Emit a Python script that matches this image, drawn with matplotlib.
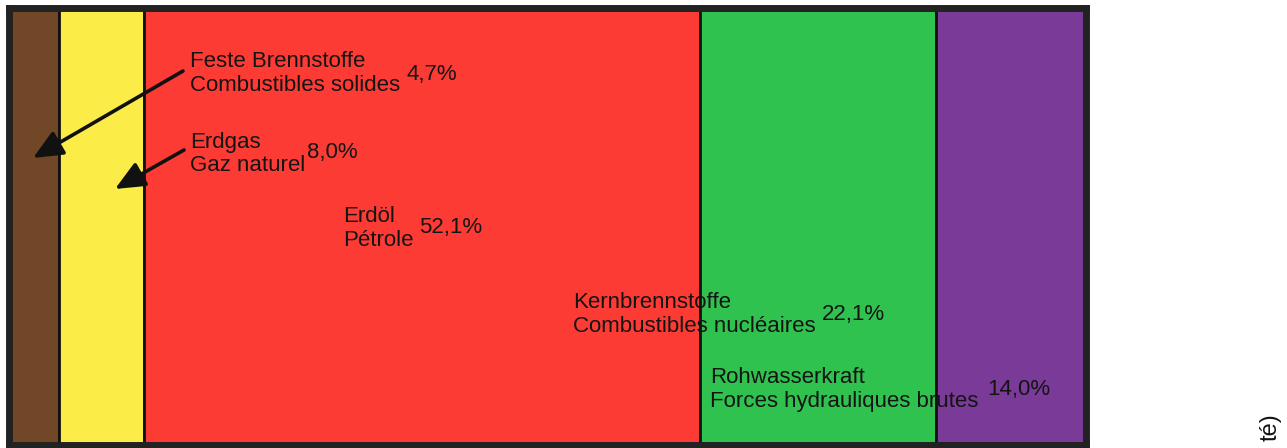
import matplotlib
matplotlib.use("Agg")
import matplotlib.pyplot as plt
import numpy as np

# ---- data ----
labels_de = ["Feste Brennstoffe", "Erdgas", "Erdöl", "Kernbrennstoffe", "Rohwasserkraft"]
labels_fr = ["Combustibles solides", "Gaz naturel", "Pétrole", "Combustibles nucléaires",
             "Forces hydrauliques brutes"]
shares = [4.7, 8.0, 52.1, 22.1, 14.0]
pct_text = ["4,7%", "8,0%", "52,1%", "22,1%", "14,0%"]
colors = ["#724727", "#fbec48", "#fc3b35", "#30c24f", "#7a3a98"]
edge_caption = "té)"

# ---- layout (pixel positions of labels in the 1287x448 figure) ----
W, H = 1287, 448
ax_l, ax_r, ax_t, ax_b = 8.5, 1086.0, 8.5, 445.0
# (x_left, baseline_de, baseline_fr) for names; (x_left, baseline) for percentages
name_pos = [(190, 67, 91), (190, 148, 171), (343, 222, 246), (573, 308, 332), (710, 383, 407)]
pct_pos = [(407, 80), (307, 158), (419, 233), (822, 320), (987, 395)]
# arrows: (start_x, start_y, tip_x, tip_y)
arrow_pos = [(183, 71, 33, 158), (184, 150, 115, 189)]

plt.rcParams["font.family"] = ["Liberation Sans", "DejaVu Sans"]

fig = plt.figure(figsize=(W / 100, H / 100), dpi=100)
ax = fig.add_axes([ax_l / W, 1 - ax_b / H, (ax_r - ax_l) / W, (ax_b - ax_t) / H])

total = sum(shares)
lefts = np.concatenate([[0], np.cumsum(shares)[:-1]])
ax.barh([0.5] * len(shares), shares, left=lefts, height=1.0, color=colors,
        edgecolor="#111111", linewidth=2.0, zorder=1)
ax.set_xlim(0, total)
ax.set_ylim(0, 1)
ax.set_xticks([])
ax.set_yticks([])
for s in ax.spines.values():
    s.set_linewidth(5.0)
    s.set_color("#222222")
    s.set_zorder(5)


def to_data(px, py):
    x = (px - ax_l) / (ax_r - ax_l) * total
    y = 1 - (py - ax_t) / (ax_b - ax_t)
    return x, y


fs = 16.0
tc = "#141414"
for de, fr, (px, b1, b2) in zip(labels_de, labels_fr, name_pos):
    ax.text(*to_data(px, b1), de, fontsize=fs, color=tc, ha="left", va="baseline", zorder=3)
    ax.text(*to_data(px, b2), fr, fontsize=fs, color=tc, ha="left", va="baseline", zorder=3)
for t, (px, py) in zip(pct_text, pct_pos):
    ax.text(*to_data(px, py), t, fontsize=fs, color=tc, ha="left", va="baseline", zorder=3)

for sx, sy, tx, ty in arrow_pos:
    ax.annotate("", xy=to_data(tx, ty), xytext=to_data(sx, sy),
                arrowprops=dict(arrowstyle="-|>,head_length=0.9,head_width=0.4", lw=2.6,
                                color="#111111", shrinkA=0, shrinkB=0, mutation_scale=20),
                zorder=4)

# partially visible rotated caption fragment at the right edge
fig.text(1271 / W, 1 - 413 / H, edge_caption, rotation=90,
         fontsize=17, color=tc, ha="center", va="top")

fig.savefig("out.png", dpi=100)
